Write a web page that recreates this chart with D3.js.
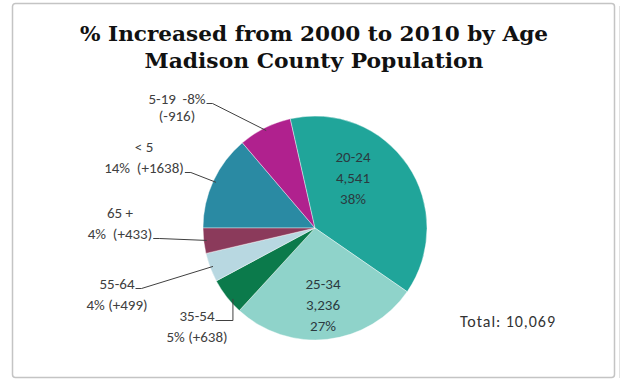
<!DOCTYPE html>
<html>
<head>
<meta charset="utf-8">
<script src="https://cdn.jsdelivr.net/npm/d3@7/dist/d3.min.js"></script>
<style>
  body { margin: 0; background: #ffffff; }
  svg { display: block; }
</style>
</head>
<body>
<svg id="chart" width="623" height="381"></svg>
<script>
// Population change by age group, Madison County, 2000 -> 2010
const categories = ["< 5", "5-19", "20-24", "25-34", "35-54", "55-64", "65 +"];
const changes    = [1638, -916, 4541, 3236, 638, 499, 433];
const percents   = [14, -8, 38, 27, 5, 4, 4];
const sliceColors = ["#2a8aa3", "#b0218e", "#20a59a", "#8fd3ca", "#0b7a4b", "#b8d8e1", "#8b3a5b"];
const titleLines = ["% Increased  from 2000 to 2010 by Age", "Madison County Population"];
const totalText = "Total: 10,069";

const W = 623, H = 381;
const cx = 315, cy = 228, R = 112;

const svg = d3.select("#chart");

// chart frame
svg.append("rect")
  .attr("x", 12.5).attr("y", 3.5).attr("width", 602).attr("height", 374)
  .attr("rx", 3).attr("fill", "#ffffff")
  .attr("stroke", "#c4c4c4").attr("stroke-width", 1.5);
svg.append("line")
  .attr("x1", 619.5).attr("x2", 619.5).attr("y1", 6).attr("y2", 378)
  .attr("stroke", "#e2e2e2").attr("stroke-width", 1);

// title
const titleFont = "'DejaVu Serif', 'Liberation Serif', serif";
const titleWidths = [468, 339];
titleLines.forEach((t, i) => {
  svg.append("text")
    .attr("x", 314).attr("y", 41 + i * 27)
    .attr("text-anchor", "middle")
    .attr("font-family", titleFont)
    .attr("font-weight", "bold")
    .attr("font-size", 21)
    .attr("fill", "#111")
    .attr("textLength", titleWidths[i])
    .attr("lengthAdjust", "spacingAndGlyphs")
    .text(t);
});

// pie
const data = categories.map((c, i) => ({ cat: c, change: changes[i], pct: percents[i], color: sliceColors[i] }));
const pie = d3.pie()
  .value(d => Math.abs(d.change))
  .sort(null)
  .startAngle(-Math.PI / 2)
  .endAngle(Math.PI * 1.5);
const arcs = pie(data);
const arc = d3.arc().innerRadius(0).outerRadius(R);

const g = svg.append("g").attr("transform", `translate(${cx},${cy})`);
g.selectAll("path.slice")
  .data(arcs)
  .join("path")
  .attr("class", "slice")
  .attr("d", arc)
  .attr("fill", d => d.data.color)
  .attr("stroke", "#ffffff")
  .attr("stroke-width", 0.4);

const labelFont = "Carlito, Lato, 'Open Sans', sans-serif";
const fs = 15;
const fmt = d3.format(",");
const signed = v => (v > 0 ? "+" : "") + v;

// label placement (text centre, line spacing, which line carries the leader)
const outside = {
  "5-19":  { x: 177, y: 99,  gap: 17, lead: 0, elbow: "diag", lines: d => [`${d.cat}  ${d.pct}%`, `(${d.change})`] },
  "< 5":   { x: 144, y: 147, gap: 21, lead: 1, elbow: "diag", lines: d => [d.cat, `${d.pct}%  (${signed(d.change)})`] },
  "65 +":  { x: 120, y: 213, gap: 21, lead: 1, elbow: "diag", lines: d => [d.cat, `${d.pct}%  (${signed(d.change)})`] },
  "55-64": { x: 117, y: 284, gap: 21, lead: 0, elbow: "diag", lines: d => [d.cat, `${d.pct}% (${signed(d.change)})`] },
  "35-54": { x: 197, y: 316, gap: 21, lead: 0, elbow: "up",   lines: d => [d.cat, `${d.pct}% (${signed(d.change)})`] }
};
const inside = {
  "20-24": { dx: 38, dy: -50 },
  "25-34": { dx: 8, dy: 77 }
};

const edge = (d, r) => {
  const a = (d.startAngle + d.endAngle) / 2;
  return [cx + r * Math.sin(a), cy - r * Math.cos(a)];
};

arcs.forEach(d => {
  const cat = d.data.cat;
  if (outside[cat]) {
    const L = outside[cat];
    const lines = L.lines(d.data);
    let leadRight = 0;
    lines.forEach((t, i) => {
      const txt = svg.append("text")
        .attr("x", L.x).attr("y", L.y + i * L.gap + 5)
        .attr("text-anchor", "middle")
        .attr("font-family", labelFont)
        .attr("font-size", fs)
        .attr("fill", "#404040")
        .attr("xml:space", "preserve")
        .style("white-space", "pre")
        .text(t);
      if (i === L.lead) leadRight = L.x + txt.node().getComputedTextLength() / 2;
    });
    const sy = L.y + L.lead * L.gap + 4.5;
    const sx = leadRight + 1;
    const p = edge(d, R - 3);
    let pts;
    if (L.elbow === "up") pts = [[sx, sy], [p[0] + 4, sy], [p[0] + 4, p[1] + 4]];
    else pts = [[sx, sy], [sx + 6, sy], p];
    svg.append("path")
      .attr("d", d3.line()(pts))
      .attr("fill", "none")
      .attr("stroke", "#404040")
      .attr("stroke-width", 1);
  } else if (inside[cat]) {
    const I = inside[cat];
    const lines = [cat, fmt(d.data.change), `${d.data.pct}%`];
    lines.forEach((t, i) => {
      svg.append("text")
        .attr("x", cx + I.dx).attr("y", cy + I.dy + (i - 1) * 21 + 5)
        .attr("text-anchor", "middle")
        .attr("font-family", labelFont)
        .attr("font-size", fs)
        .attr("fill", "#2b3a40")
        .text(t);
    });
  }
});

// total
svg.append("text")
  .attr("x", 460).attr("y", 327)
  .attr("font-family", labelFont)
  .attr("font-size", 16)
  .attr("fill", "#333")
  .attr("textLength", 95)
  .attr("lengthAdjust", "spacing")
  .text(totalText);
</script>
</body>
</html>
